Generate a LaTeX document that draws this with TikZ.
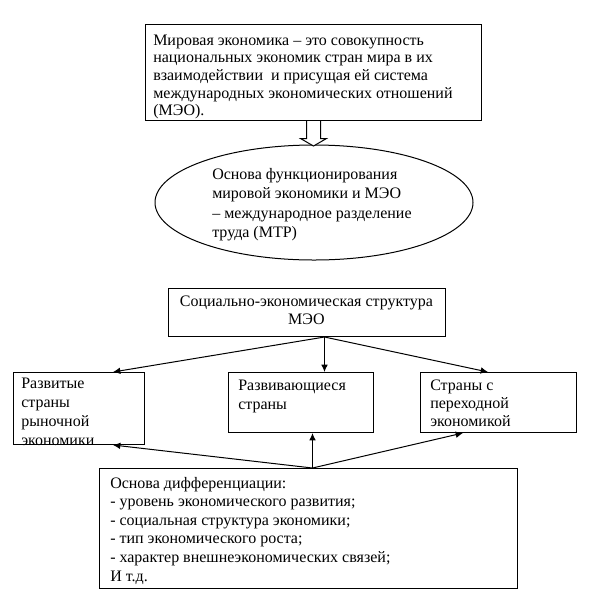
\documentclass[tikz,border=0pt]{standalone}
\usepackage{fontspec}
\setmainfont{Liberation Serif}
\usetikzlibrary{shapes.geometric,arrows.meta,calc}

\begin{document}
\begin{tikzpicture}[x=0.75pt,y=-0.75pt,
    ramka/.style={draw, line width=0.75pt, inner sep=0pt, anchor=north west},
    tekst/.style={inner sep=0pt, anchor=north west, align=left, font=\fontsize{12pt}{#1}\selectfont},
    tekst/.default=13.5pt,
    strelka/.style={-{Latex[length=5.5pt,width=5pt]}, line width=0.75pt}]
    \fill[white] (0,0) rectangle (613,594);
    \useasboundingbox (0,0) rectangle (613,594);

    % ramki
    \node[ramka, minimum width=252pt, minimum height=72pt] (mirov) at (145,24) {};
    \node[draw, ellipse, line width=0.75pt, inner sep=0pt, minimum width=238.5pt, minimum height=86.25pt] (osnova) at (314,202.5) {};
    \node[ramka, minimum width=207.75pt, minimum height=36pt] (struct) at (168,288) {};
    \node[ramka, minimum width=98.25pt, minimum height=54pt] (razvitye) at (13,372) {};
    \node[ramka, minimum width=108.75pt, minimum height=45pt] (razvivayushch) at (228,372) {};
    \node[ramka, minimum width=117pt, minimum height=45pt] (perekhod) at (420,372) {};
    \node[ramka, minimum width=313.5pt, minimum height=90pt] (diff) at (99,468) {};

    % teksty
    \node[tekst=13.2pt] (mirovT) at (153,34.6) {Мировая экономика – это совокупность\\национальных экономик стран мира в их\\взаимодействии \ и присущая ей система\\международных экономических отношений\\(МЭО).};
    \node[tekst=14.5pt] (osnovaT) at (212,168) {Основа функционирования\\мировой экономики и МЭО\\– международное разделение\\труда (МТР)};
    \node[tekst=13.3pt, anchor=north, align=center] (structT) at (306.5,296) {Социально-экономическая структура\\МЭО};
    \node[tekst=14.2pt] (razvityeT) at (21,377.8) {Развитые\\страны\\рыночной\\экономики};
    \node[tekst=13.8pt] (razvivayushchT) at (238,380) {Развивающиеся\\страны};
    \node[tekst=13.4pt] (perekhodT) at (430,379.5) {Страны с\\переходной\\экономикой};
    \node[tekst=13.9pt] (diffT) at (110,477) {Основа дифференциации:\\- уровень экономического развития;\\- социальная структура экономики;\\- тип экономического роста;\\- характер внешнеэкономических связей;\\И т.д.};

    % polaya strelka
    \draw[line width=0.75pt, fill=white] ($(mirov.south)+(-7,0)$) -- ++(0,17.5) -- ++(-6,0) -- ++(13,7.5) -- ++(13,-7.5) -- ++(-6,0) -- ++(0,-17.5);

    \coordinate (S) at ($(struct.south)+(17.5,0)$);
    \coordinate (D) at ($(diff.north)+(4,0)$);

    \draw[strelka] (S) -- ($(razvitye.north west)+(100,0)$);
    \draw[strelka] (S) -- (S |- razvivayushch.north);
    \draw[strelka] (S) -- ($(perekhod.north west)+(68,0)$);

    \draw[strelka] (D) -- ($(razvitye.south west)+(100,0)$);
    \draw[strelka] (D) -- (D |- razvivayushch.south);
    \draw[strelka] (D) -- ($(perekhod.south west)+(43,0)$);
\end{tikzpicture}
\end{document}
